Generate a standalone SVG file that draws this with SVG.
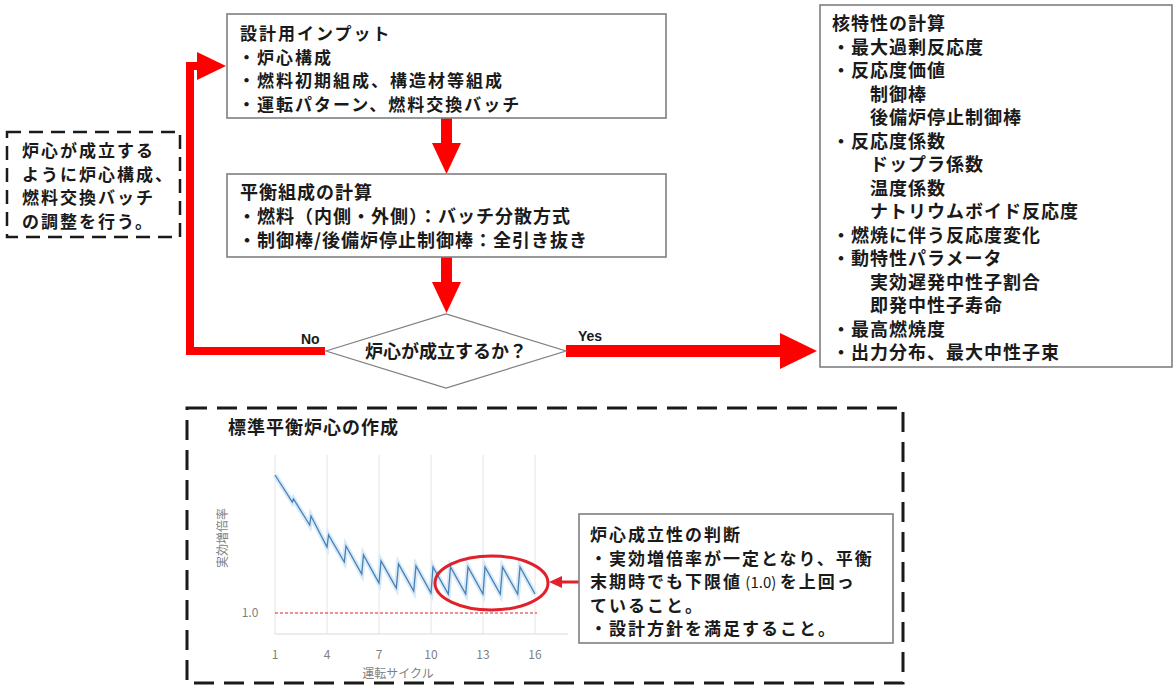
<svg xmlns="http://www.w3.org/2000/svg" width="1176" height="686" viewBox="0 0 1176 686">
<style>
.t{font-family:"Noto Sans CJK JP","Noto Sans",sans-serif;font-weight:700;font-size:18px;fill:#1a1a1a;letter-spacing:1px}
.s{font-size:17px;letter-spacing:2px}
.box{fill:#fff;stroke:#7f7f7f;stroke-width:1.6}
.ax{font-family:"Noto Sans CJK JP","Noto Sans",sans-serif;font-size:12px;fill:#7f7f7f}
.lab{font-family:"Liberation Sans",Arial,sans-serif;font-weight:700;font-size:14px;fill:#1a1a1a}
.red{fill:#ff0000}
.grid{stroke:#e3e3e3;stroke-width:1}
</style>
<rect width="1176" height="686" fill="#fff"/>
<g id="connectors">
<path d="M325,351 H190 V66 H200" fill="none" stroke="#ff0000" stroke-width="8"/>
<polygon class="red" points="197,52 226,66 197,80"/>
<rect class="red" x="441" y="118" width="11" height="26"/>
<polygon class="red" points="432,143 461,143 446.5,174"/>
<rect class="red" x="441" y="257" width="11" height="26"/>
<polygon class="red" points="432,282 461,282 446.5,313"/>
<rect class="red" x="566" y="345" width="216" height="12"/>
<polygon class="red" points="780,333 817,351 780,369"/>
<text class="lab" x="301" y="344">No</text>
<text class="lab" x="578" y="341">Yes</text>
</g>
<g id="n-input">
<rect class="box" x="227" y="14" width="439" height="104"/>
<text class="t s" x="240" y="40">設計用インプット</text>
<text class="t s" x="238" y="63.5">・炉心構成</text>
<text class="t s" x="238" y="87">・燃料初期組成、構造材等組成</text>
<text class="t s" x="238" y="110.5">・運転パターン、燃料交換バッチ</text>
</g>
<g id="n-equil">
<rect class="box" x="227" y="174" width="439" height="83"/>
<text class="t" x="240" y="199">平衡組成の計算</text>
<text class="t" x="238" y="223">・燃料（内側・外側）：バッチ分散方式</text>
<text class="t" x="238" y="247">・制御棒/後備炉停止制御棒：全引き抜き</text>
</g>
<g id="n-adjust">
<rect x="7" y="132" width="173" height="105" fill="#fff" stroke="#1a1a1a" stroke-width="2.5" stroke-dasharray="14 8"/>
<text class="t s" x="22" y="157">炉心が成立する</text>
<text class="t s" x="22" y="180.5">ように炉心構成、</text>
<text class="t s" x="22" y="204">燃料交換バッチ</text>
<text class="t s" x="22" y="227.5">の調整を行う。</text>
</g>
<g id="n-decision">
<polygon points="326,351 446,314 566,351 446,388" fill="#fff" stroke="#7f7f7f" stroke-width="1.2"/>
<text class="t" x="446" y="358" text-anchor="middle" style="letter-spacing:0">炉心が成立するか？</text>
</g>
<g id="n-nuclear">
<rect class="box" x="820" y="5" width="352" height="362"/>
<text class="t" x="832" y="30">核特性の計算</text>
<text class="t" x="832" y="53.5">・最大過剰反応度</text>
<text class="t" x="832" y="77">・反応度価値</text>
<text class="t" x="870" y="100.5">制御棒</text>
<text class="t" x="870" y="124">後備炉停止制御棒</text>
<text class="t" x="832" y="147.5">・反応度係数</text>
<text class="t" x="870" y="171">ドップラ係数</text>
<text class="t" x="870" y="194.5">温度係数</text>
<text class="t" x="870" y="218">ナトリウムボイド反応度</text>
<text class="t" x="832" y="241.5">・燃焼に伴う反応度変化</text>
<text class="t" x="832" y="265">・動特性パラメータ</text>
<text class="t" x="870" y="288.5">実効遅発中性子割合</text>
<text class="t" x="870" y="312">即発中性子寿命</text>
<text class="t" x="832" y="335.5">・最高燃焼度</text>
<text class="t" x="832" y="359">・出力分布、最大中性子束</text>
</g>
<g id="n-standard">
<rect x="187" y="408" width="716" height="275" fill="none" stroke="#1a1a1a" stroke-width="3" stroke-dasharray="20 10"/>
<text class="t" x="228" y="434">標準平衡炉心の作成</text>
<g id="chart">
<line class="grid" x1="275" y1="455" x2="275" y2="634"/>
<line class="grid" x1="327" y1="455" x2="327" y2="634"/>
<line class="grid" x1="379" y1="455" x2="379" y2="634"/>
<line class="grid" x1="431" y1="455" x2="431" y2="634"/>
<line class="grid" x1="483" y1="455" x2="483" y2="634"/>
<line class="grid" x1="535" y1="455" x2="535" y2="634"/>
<line x1="275" y1="634" x2="568" y2="634" stroke="#d9d9d9" stroke-width="1.2"/>
<line x1="275" y1="613" x2="537" y2="613" stroke="#e02020" stroke-width="1.2" stroke-dasharray="3 2"/>
<path d="M275,475 L292.3,502 L293.5,499 L309.7,525 L311,516 L327,547 L328.5,535 L344.3,562 L346,546 L361.7,574 L363.5,555 L379,583 L381,561 L396.3,588 L398.5,564 L413.7,591 L416,566 L431,593 L433,567 L448.3,594 L450.5,567 L465.7,594 L468,567 L483,594 L485,567 L500.3,594 L502.5,567 L517.7,594 L520,567 L535,594" fill="none" stroke="#d6eaf8" stroke-width="5"/>
<path d="M275,475 L292.3,502 L293.5,499 L309.7,525 L311,516 L327,547 L328.5,535 L344.3,562 L346,546 L361.7,574 L363.5,555 L379,583 L381,561 L396.3,588 L398.5,564 L413.7,591 L416,566 L431,593 L433,567 L448.3,594 L450.5,567 L465.7,594 L468,567 L483,594 L485,567 L500.3,594 L502.5,567 L517.7,594 L520,567 L535,594" fill="none" stroke="#4a7fb5" stroke-width="1.3"/>
<text class="ax" x="250" y="617" text-anchor="middle">1.0</text>
<text class="ax" x="227" y="538" text-anchor="middle" transform="rotate(-90 227 538)">実効増倍率</text>
<text class="ax" x="275" y="659" text-anchor="middle">1</text>
<text class="ax" x="327" y="659" text-anchor="middle">4</text>
<text class="ax" x="379" y="659" text-anchor="middle">7</text>
<text class="ax" x="431" y="659" text-anchor="middle">10</text>
<text class="ax" x="483" y="659" text-anchor="middle">13</text>
<text class="ax" x="535" y="659" text-anchor="middle">16</text>
<text class="ax" x="398" y="678" text-anchor="middle">運転サイクル</text>
</g>
<ellipse cx="491.5" cy="583" rx="56.5" ry="27" fill="none" stroke="#e0202a" stroke-width="3"/>
</g>
<g id="n-judge">
<line x1="579" y1="582" x2="560" y2="582" stroke="#e0202a" stroke-width="3"/>
<polygon points="549,582 562,576 562,588" fill="#e0202a"/>
<rect class="box" x="579" y="514" width="314" height="129"/>
<text class="t s" x="590" y="541">炉心成立性の判断</text>
<text class="t s" x="590" y="564.5">・実効増倍率が一定となり、平衡</text>
<text class="t s" x="590" y="588">末期時でも下限値<tspan style="font-weight:400;font-size:15px;letter-spacing:0"> (1.0) </tspan>を上回っ</text>
<text class="t s" x="590" y="611.5">ていること。</text>
<text class="t s" x="590" y="635">・設計方針を満足すること。</text>
</g>
</svg>
